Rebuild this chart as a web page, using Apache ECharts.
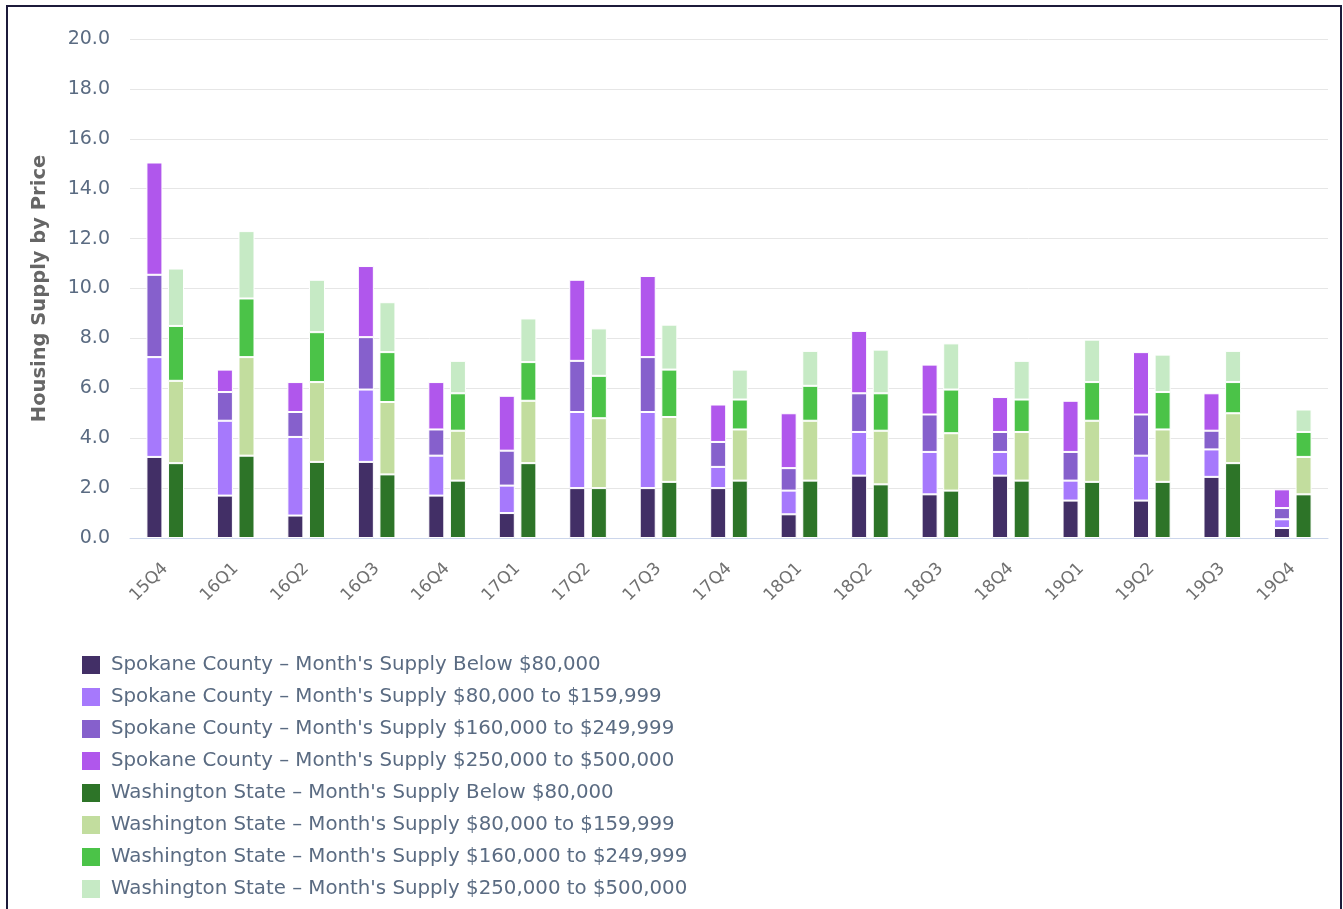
<!DOCTYPE html>
<html>
<head>
<meta charset="utf-8">
<script src="https://cdn.jsdelivr.net/npm/echarts@6/dist/echarts.min.js"></script>
<style>
  html, body { margin: 0; padding: 0; background: #fff; }
  #chart { width: 1343px; height: 909px; }
  #frame {
    position: absolute; left: 6px; top: 5px; width: 1332px; height: 920px;
    border: 2px solid #1c1a3a; pointer-events: none;
  }
</style>
</head>
<body>
<div id="chart"></div>
<div id="frame"></div>
<script>
// quarters
const categories = ['15Q4', '16Q1', '16Q2', '16Q3', '16Q4', '17Q1', '17Q2', '17Q3', '17Q4',
  '18Q1', '18Q2', '18Q3', '18Q4', '19Q1', '19Q2', '19Q3', '19Q4'];

// Spokane County (months of supply per price band)
const spokaneBelow80 = [3.25, 1.7, 0.9, 3.05, 1.7, 1.0, 2.0, 2.0, 2.0, 0.95, 2.5, 1.75, 2.5, 1.5, 1.5, 2.45, 0.4];
const spokane80to160 = [4.0, 3.0, 3.15, 2.9, 1.6, 1.1, 3.05, 3.05, 0.85, 0.95, 1.75, 1.7, 0.95, 0.8, 1.8, 1.1, 0.35];
const spokane160to250 = [3.3, 1.15, 1.0, 2.1, 1.05, 1.4, 2.05, 2.2, 1.0, 0.9, 1.55, 1.5, 0.8, 1.15, 1.65, 0.75, 0.45];
const spokane250to500 = [4.5, 0.9, 1.2, 2.85, 1.9, 2.2, 3.25, 3.25, 1.5, 2.2, 2.5, 2.0, 1.4, 2.05, 2.5, 1.5, 0.75];

// Washington State
const waBelow80 = [3.0, 3.3, 3.05, 2.55, 2.3, 3.0, 2.0, 2.25, 2.3, 2.3, 2.15, 1.9, 2.3, 2.25, 2.25, 3.0, 1.75];
const wa80to160 = [3.3, 3.95, 3.2, 2.9, 2.0, 2.5, 2.8, 2.6, 2.05, 2.4, 2.15, 2.3, 1.95, 2.45, 2.1, 2.0, 1.5];
const wa160to250 = [2.2, 2.35, 2.0, 2.0, 1.5, 1.55, 1.7, 1.9, 1.2, 1.4, 1.5, 1.75, 1.3, 1.55, 1.5, 1.25, 1.0];
const wa250to500 = [2.3, 2.7, 2.1, 2.0, 1.3, 1.75, 1.9, 1.8, 1.2, 1.4, 1.75, 1.85, 1.55, 1.7, 1.5, 1.25, 0.9];

const seriesDefs = [
  { name: "Spokane County – Month's Supply Below $80,000", stack: 'spokane', color: '#422f66', data: spokaneBelow80 },
  { name: "Spokane County – Month's Supply $80,000 to $159,999", stack: 'spokane', color: '#a679fc', data: spokane80to160 },
  { name: "Spokane County – Month's Supply $160,000 to $249,999", stack: 'spokane', color: '#8660cc', data: spokane160to250 },
  { name: "Spokane County – Month's Supply $250,000 to $500,000", stack: 'spokane', color: '#b057ec', data: spokane250to500 },
  { name: "Washington State – Month's Supply Below $80,000", stack: 'wa', color: '#2d7428', data: waBelow80 },
  { name: "Washington State – Month's Supply $80,000 to $159,999", stack: 'wa', color: '#c2dd9e', data: wa80to160 },
  { name: "Washington State – Month's Supply $160,000 to $249,999", stack: 'wa', color: '#4bc348', data: wa160to250 },
  { name: "Washington State – Month's Supply $250,000 to $500,000", stack: 'wa', color: '#c6eac5', data: wa250to500 }
];

const chart = echarts.init(document.getElementById('chart'));

const series = seriesDefs.map(s => ({
  name: s.name,
  type: 'bar',
  stack: s.stack,
  data: s.data,
  barWidth: 16,
  barGap: '35%',
  itemStyle: { color: s.color, borderColor: '#ffffff', borderWidth: 1 }
}));

const option = {
  animation: false,
  textStyle: { fontFamily: 'DejaVu Sans' },
  grid: { left: 130, right: 15, top: 39, bottom: 371 },
  legend: {
    orient: 'vertical',
    left: 82,
    top: 655,
    bottom: 0,
    padding: 0,
    icon: 'rect',
    itemWidth: 18,
    itemHeight: 18,
    itemGap: 12,
    itemStyle: { borderWidth: 0 },
    textStyle: {
      fontSize: 19.8, color: '#5a6b82', fontFamily: 'DejaVu Sans',
      padding: [0, 0, 0, 6]
    }
  },
  xAxis: {
    type: 'category',
    data: categories,
    axisLine: { lineStyle: { color: '#ccd6eb', width: 1 } },
    axisTick: { show: false },
    axisLabel: { rotate: 45, fontSize: 17, color: '#707070', margin: 28 }
  },
  yAxis: {
    type: 'value',
    min: 0,
    max: 20,
    interval: 2,
    name: 'Housing Supply by Price',
    nameLocation: 'middle',
    nameGap: 80,
    nameTextStyle: { fontSize: 19.5, color: '#666666', fontWeight: 'bold' },
    axisLabel: {
      fontSize: 19, color: '#5a6b82', margin: 20,
      formatter: v => v.toFixed(1)
    },
    splitLine: { lineStyle: { color: '#e6e6e6', width: 1 } }
  },
  series
};

chart.setOption(option);
</script>
</body>
</html>
